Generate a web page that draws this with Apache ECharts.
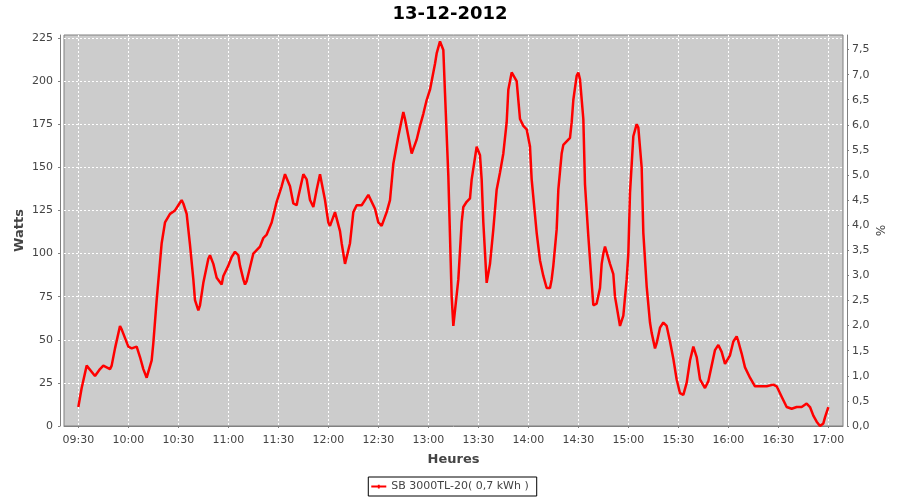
<!DOCTYPE html>
<html><head><meta charset="utf-8">
<script src="https://cdn.jsdelivr.net/npm/echarts@6/dist/echarts.min.js"></script>
<style>html,body{margin:0;padding:0;background:#fff}#c{width:900px;height:500px}</style>
</head><body><div id="c"></div>
<script>
const chartTitle = '13-12-2012';
const seriesName = 'SB 3000TL-20( 0,7 kWh )';
const xName = 'Heures';
const yName = 'Watts';
const y2Name = '%';

const times = ['09:30','09:32','09:35','09:36','09:40','09:43','09:45','09:47','09:49','09:50','09:52','09:55','09:56',
 '10:00','10:02','10:05','10:07','10:09','10:11','10:12','10:14','10:15','10:17','10:19','10:20','10:22','10:25','10:28',
 '10:30','10:32','10:33','10:35','10:37','10:39','10:40','10:42','10:43','10:45','10:48','10:49','10:51','10:53','10:56','10:57',
 '11:00','11:02','11:04','11:06','11:07','11:09','11:10','11:11','11:13','11:15','11:17','11:19','11:21','11:23','11:26','11:29',
 '11:32','11:34','11:35','11:37','11:39','11:41','11:42','11:45','11:47','11:49','11:51','11:53','11:55','11:56','11:58',
 '12:00','12:01','12:04','12:05','12:07','12:08','12:10','12:11','12:13','12:15','12:17','12:20','12:22','12:24','12:25','12:28',
 '12:30','12:32','12:33','12:35','12:37','12:39','12:42','12:45','12:46','12:48','12:50','12:51','12:53','12:55','12:57','12:59',
 '13:01','13:04','13:05','13:07','13:09','13:10','13:12','13:14','13:15','13:16','13:18','13:20','13:21','13:23','13:25','13:26','13:29',
 '13:31','13:32','13:33','13:35','13:36','13:37','13:39','13:41','13:43','13:45','13:47','13:48','13:50','13:51','13:53','13:55','13:57','13:59',
 '14:01','14:02','14:05','14:07','14:09','14:11','14:13','14:14','14:15','14:17','14:18','14:20','14:21','14:23','14:25','14:26','14:27','14:29',
 '14:30','14:31','14:33','14:34','14:36','14:38','14:39','14:41','14:43','14:44','14:45','14:46','14:47','14:49','14:51','14:52','14:55','14:56','14:57','14:59',
 '15:00','15:01','15:03','15:05','15:06','15:08','15:09','15:11','15:13','15:14','15:16','15:17','15:19','15:21','15:23','15:25','15:27','15:29',
 '15:31','15:33','15:35','15:37','15:39','15:41','15:43','15:46','15:48','15:50','15:52','15:54','15:56','15:58','15:59',
 '16:01','16:03','16:05','16:06','16:08','16:10','16:13','16:16','16:19','16:23','16:27','16:29',
 '16:32','16:35','16:38','16:41','16:44','16:47','16:49','16:51','16:53','16:55','16:57','16:58','17:00'];
const watts = [11,22,35,34,29,33,35,34,33,35,45,58,56,
 46,45,46,40,33,28,29,38,48,73,95,106,118,123,125,
 128,131,129,123,105,85,73,67,70,83,97,99,94,86,82,87,
 93,98,101,99,93,85,82,84,92,100,102,104,109,111,118,130,
 139,146,146,139,129,128,133,146,143,131,127,137,146,145,131,
 118,116,124,123,113,106,94,93,106,124,128,128,131,134,134,126,
 118,116,117,124,131,152,168,182,178,168,158,158,166,174,181,189,
 195,210,216,223,218,193,145,75,58,57,85,118,127,130,132,143,162,
 157,143,118,83,82,94,114,137,147,158,176,195,205,205,200,178,174,172,
 162,143,112,96,87,80,80,85,93,114,137,158,163,165,167,176,189,203,
 205,201,178,140,110,83,70,71,80,94,100,104,104,94,88,75,58,59,64,85,
 100,135,168,175,173,150,112,81,60,54,45,48,57,60,58,49,39,27,
 19,18,25,38,46,40,27,22,26,35,44,47,43,36,35,
 41,49,52,49,42,34,28,23,23,23,24,23,
 17,11,10,11,11,13,11,6,2.5,0,1.5,5,11];

const xTicks = ['09:30','10:00','10:30','11:00','11:30','12:00','12:30','13:00','13:30','14:00','14:30','15:00','15:30','16:00','16:30','17:00'];
const wattTicks = [0,25,50,75,100,125,150,175,200,225];
const pctTicks = [0,0.5,1,1.5,2,2.5,3,3.5,4,4.5,5,5.5,6,6.5,7,7.5];

function toMin(s){const p=s.split(':');return +p[0]*60 + +p[1];}
function fmt(v){const h=Math.floor(v/60),m=Math.round(v-h*60);return (h<10?'0':'')+h+':'+(m<10?'0':'')+m;}

const data = times.map((t,i)=>[toMin(t), watts[i]]);
const xTickVals = xTicks.map(toMin);

const FONT = 'DejaVu Sans';
const axisGray = '#808080';
const labelCol = '#444444';

const chart = echarts.init(document.getElementById('c'), null, {renderer:'canvas'});
chart.setOption({
  animation:false,
  backgroundColor:'#ffffff',
  title:{text:chartTitle,left:'center',top:0,padding:5,
    textStyle:{fontFamily:FONT,fontSize:18,fontWeight:'bold',color:'#000'}},
  legend:{top:477,left:'center',data:[seriesName],
    icon:'path://M0,1H16V3H0Z M7,0H9V4H7Z',
    borderColor:'#000',borderWidth:1,padding:[4,8,4,3],itemWidth:15,itemHeight:14,
    textStyle:{fontFamily:FONT,fontSize:11,color:labelCol}},
  grid:{left:64,right:57,top:35,bottom:74,show:true,backgroundColor:'#cccccc',borderColor:axisGray,borderWidth:1,containLabel:false},
  xAxis:{type:'value',min:561.4,max:1028.8,offset:4,
    name:xName,nameLocation:'middle',nameGap:23,nameMoveOverlap:false,
    nameTextStyle:{fontFamily:FONT,fontSize:13,fontWeight:'bold',color:labelCol},
    axisLine:{show:true,lineStyle:{color:axisGray,width:1}},
    axisTick:{show:true,length:2,lineStyle:{color:axisGray},customValues:xTickVals},
    axisLabel:{customValues:xTickVals,formatter:v=>fmt(v),margin:5,fontFamily:FONT,fontSize:11,color:labelCol},
    splitLine:{show:true,lineStyle:{color:'#ffffff',type:[2,2],width:1}}},
  yAxis:[{type:'value',min:0,max:226.7,position:'left',offset:4,
    name:yName,nameLocation:'middle',nameGap:34,nameRotate:90,nameMoveOverlap:false,
    nameTextStyle:{fontFamily:FONT,fontSize:13,fontWeight:'bold',color:labelCol},
    axisLine:{show:true,lineStyle:{color:axisGray,width:1}},
    axisTick:{show:true,length:2,lineStyle:{color:axisGray},customValues:wattTicks},
    axisLabel:{customValues:wattTicks,margin:7,fontFamily:FONT,fontSize:11,color:labelCol},
    splitLine:{show:true,lineStyle:{color:'#ffffff',type:[2,2],width:1}}},
   {type:'value',min:0,max:7.79,position:'right',offset:4,
    name:y2Name,nameLocation:'middle',nameGap:26,nameRotate:-90,nameMoveOverlap:false,
    nameTextStyle:{fontFamily:FONT,fontSize:12,color:labelCol},
    axisLine:{show:true,lineStyle:{color:axisGray,width:1}},
    axisTick:{show:true,length:2,lineStyle:{color:axisGray},customValues:pctTicks},
    axisLabel:{customValues:pctTicks,formatter:v=>v.toFixed(1).replace('.',','),margin:5,fontFamily:FONT,fontSize:11,color:labelCol},
    splitLine:{show:false}}],
  series:[{name:seriesName,type:'line',data:data,yAxisIndex:0,symbol:'none',
    lineStyle:{color:'#ff0000',width:2.5},itemStyle:{color:'#ff0000'}}]
});
</script></body></html>
